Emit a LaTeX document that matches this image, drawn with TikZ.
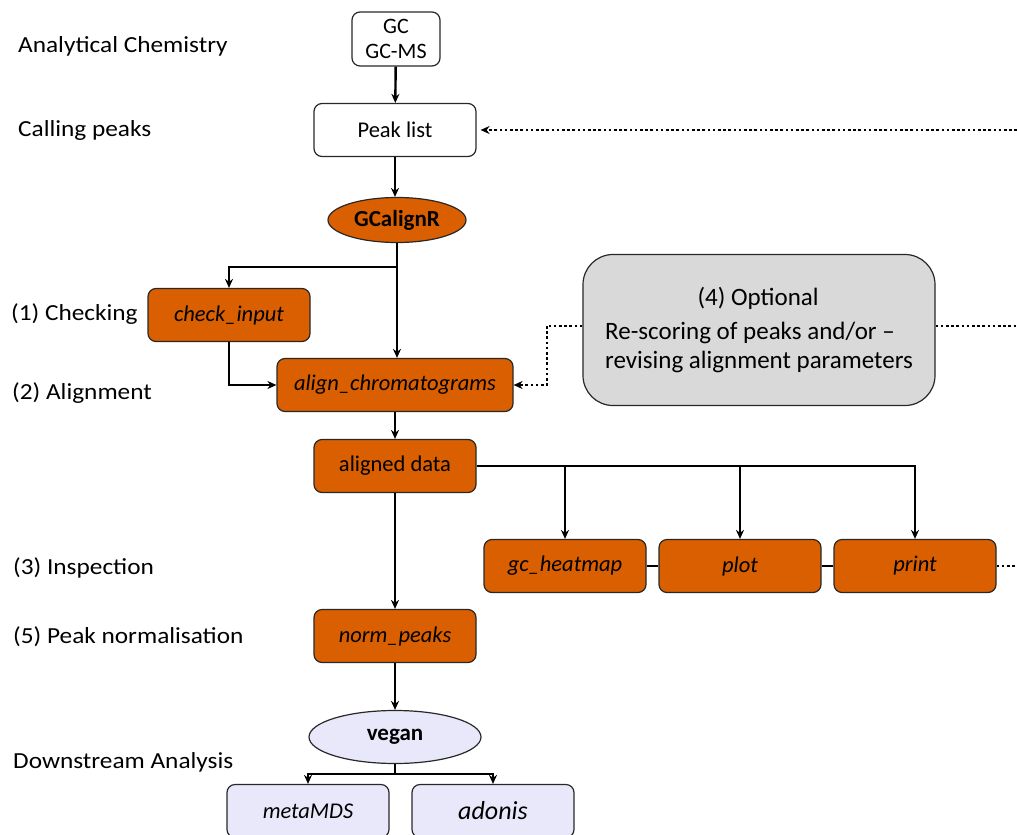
\documentclass[tikz,border=0pt]{standalone}
\usepackage{fontspec}
\setmainfont{Carlito}
\usetikzlibrary{shapes.geometric,arrows.meta}
\definecolor{orng}{RGB}{217,95,0}
\definecolor{lav}{RGB}{232,232,250}
\definecolor{grayb}{RGB}{217,217,217}
\definecolor{edgec}{RGB}{40,40,40}
\newcommand{\wlab}[1]{\scalebox{1.1}[1]{#1}}
\begin{document}
\begin{tikzpicture}[x=1pt,y=-1pt,
 box/.style={draw=edgec,line width=1.2pt,rounded corners=8pt,minimum width=162pt,minimum height=53pt,font=\fontsize{22.5}{26}\selectfont\itshape,inner sep=0pt},
 obox/.style={box,fill=orng},
 wbox/.style={box,fill=white,font=\fontsize{22.5}{26}\selectfont},
 lbox/.style={box,fill=lav},
 conn/.style={line width=2.4pt,-{Stealth[length=9pt,width=8pt]}},
 plainline/.style={line width=2.4pt},
 dots/.style={line width=2.6pt,dash pattern=on 2.6pt off 2.6pt},
 lab/.style={anchor=west,inner sep=0pt,font=\fontsize{23}{27}\selectfont}
]
\useasboundingbox (0,0) rectangle (1017,835);
\clip (0,0) rectangle (1017,835);

% left labels
\node[lab] (l1) at (18,46) {\wlab{Analytical Chemistry}};
\node[lab] (l2) at (18,130) {\wlab{Calling peaks}};
\node[lab] (l3) at (11,314) {\wlab{(1) Checking}};
\node[lab] (l4) at (12,393) {\wlab{(2) Alignment}};
\node[lab] (l5) at (13,568) {\wlab{(3) Inspection}};
\node[lab] (l6) at (13,637) {\wlab{(5) Peak normalisation}};
\node[lab] (l7) at (13,762) {\wlab{Downstream Analysis}};

% main nodes
\node[wbox,minimum width=88pt,minimum height=54pt,align=center,font=\fontsize{22}{25}\selectfont] (gc) at (396,39) {GC\\GC-MS};
\node[wbox] (pl) at (395,130) {Peak list};
\node[ellipse,draw=edgec,line width=1.2pt,fill=orng,minimum width=138pt,minimum height=45pt,inner sep=0pt,font=\fontsize{23}{26}\selectfont\bfseries] (gca) at (397,220) {GCalignR};
\node[obox] (ci) at (229,315) {check\_input};
\node[obox,minimum width=236pt] (ac) at (395,385) {align\_chromatograms};
\node[draw=edgec,line width=1.2pt,fill=grayb,rounded corners=30pt,minimum width=352pt,minimum height=151pt,align=left,font=\fontsize{25}{29}\selectfont] (opt) at (759,330) {\makebox[306pt][c]{(4) Optional}\\[5pt]Re-scoring of peaks and/or --\\revising alignment parameters};
\node[obox,font=\fontsize{22.5}{26}\selectfont] (ad) at (395,466) {aligned data};
\node[obox] (gh) at (565,566) {gc\_heatmap};
\node[obox] (pt) at (740,566) {plot};
\node[obox] (pr) at (915,566) {print};
\node[obox] (np) at (395,636) {norm\_peaks};
\node[ellipse,draw=edgec,line width=1.2pt,fill=lav,minimum width=172pt,minimum height=53pt,inner sep=0pt,font=\fontsize{23}{26}\selectfont\bfseries] (vg) at (395,737) {vegan};
\node[lbox] (md) at (308,811) {metaMDS};
\node[lbox,font=\fontsize{26}{30}\selectfont\itshape] (ado) at (493,811) {adonis};

% coordinates
\coordinate (br) at (397,267);
\coordinate (dk) at (547,326);
\coordinate (e1) at (1017,130);
\coordinate (e2) at (1017,326);
\coordinate (e3) at (1017,566);
\coordinate (vb) at (395,774);

% connectors
\draw[conn] (gc) -- (pl);
\draw[conn] (pl) -- (pl.south |- gca.north);
\draw[conn] (gca.south) -- (gca.south |- ac.north);
\draw[conn] (br) -| (ci.north);
\draw[conn] (ci.south) |- (ac.west);
\draw[dots] (opt.west |- dk) -- (dk);
\draw[dots,-{Stealth[length=9pt,width=8pt]}] (dk) |- (ac.east);
\draw[dots] (opt.east |- e2) -- (e2);
\draw[dots,-{Stealth[length=9pt,width=8pt]},shorten >=4pt] (e1) -- (pl.east);
\draw[conn] (ac) -- (ad);
\draw[conn] (ad.east) -| (pr.north);
\draw[conn] (gh.north |- ad.east) -- (gh.north);
\draw[conn] (pt.north |- ad.east) -- (pt.north);
\draw[plainline] (gh) -- (pt);
\draw[plainline] (pt) -- (pr);
\draw[dots] (pr.east) -- (e3);
\draw[conn] (ad) -- (np);
\draw[conn] (np) -- (vg);
\draw[plainline] (vg.south) -- (vb);
\draw[conn] (vb) -| (md.north);
\draw[conn] (vb) -| (ado.north);
\end{tikzpicture}
\end{document}
